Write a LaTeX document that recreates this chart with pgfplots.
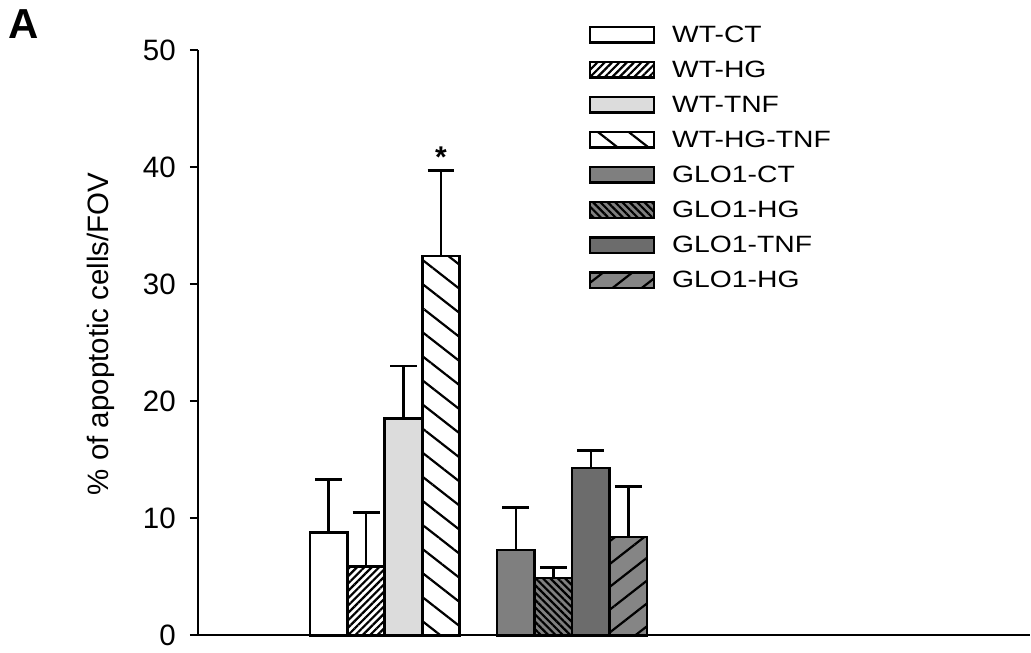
\documentclass[border=0pt]{standalone}
\usepackage{pgfplots}
\pgfplotsset{compat=1.18}
\usepackage{fontspec}
\setmainfont{Liberation Sans}
\newfontfamily\legfont{Liberation Sans}[FakeStretch=1.2]
\usetikzlibrary{patterns.meta}
\definecolor{ltgray}{HTML}{DCDCDC}
\definecolor{gCT}{HTML}{7F7F7F}
\definecolor{gHG}{HTML}{808080}
\definecolor{gTNF}{HTML}{6C6C6C}
\definecolor{gHG2}{HTML}{858585}
\pgfplotsset{
  mybar/.style={ybar, bar width=1, bar shift=0pt, draw=black, line width=1.3pt,
    error bars/y dir=plus, error bars/y explicit,
    error bars/error bar style={line width=1.3pt, black},
    error bars/error mark options={rotate=90, line width=1.3pt, black, mark size=6.75pt}},
  mylegend/.style={legend image code/.code={\draw[##1, line width=1.2pt] (0pt,0pt) rectangle (32pt,7.75pt);}},
}
\begin{document}
\begin{tikzpicture}
\path (-99pt,-8pt) rectangle (416.5pt,318pt);
\begin{axis}[
  at={(0pt,0pt)}, anchor=south west,
  scale only axis, width=416.5pt, height=293pt,
  xmin=-3.49, xmax=18.72, ymin=0, ymax=50,
  axis lines*=left,
  axis line style={line width=1pt},
  xtick=\empty,
  ytick={0,10,20,30,40,50},
  tick align=outside, major tick length=4pt,
  y tick style={line width=1pt, black},
  yticklabel style={font=\fontsize{14.75}{17}\selectfont, xshift=-3.5pt},
  /pgf/number format/assume math mode=true,
  ylabel={\% of apoptotic cells/FOV},
  ylabel style={font=\fontsize{14.75}{17}\selectfont, at={(axis description cs:-0.107,0.515)}, anchor=base},
  legend style={at={(axis description cs:0.4694,1.042)}, anchor=north west, draw=none, fill=none,
    inner sep=0pt, column sep=8.5pt, row sep=8.6pt,
    font=\legfont\fontsize{11.8}{13}\selectfont,
    nodes={inner sep=0pt, text height=8.2pt, text depth=0pt, anchor=base west}},
  legend cell align=left,
  clip=false,
]
\addplot[mybar, fill=white, mylegend] coordinates {(0,8.8) +- (0,4.5)};
\addlegendentry{WT-CT}
\addplot[mybar, fill=white, postaction={pattern={Lines[angle=45,distance=2.6pt,line width=1.1pt]}, pattern color=black}, mylegend] coordinates {(1,5.9) +- (0,4.6)};
\addlegendentry{WT-HG}
\addplot[mybar, fill=ltgray, mylegend] coordinates {(2,18.5) +- (0,4.5)};
\addlegendentry{WT-TNF}
\addplot[mybar, fill=white, postaction={pattern={Lines[angle=-38,distance=9.5pt,line width=1.1pt]}, pattern color=black}, mylegend] coordinates {(3,32.4) +- (0,7.3)};
\addlegendentry{WT-HG-TNF}
\addplot[mybar, fill=gCT, mylegend] coordinates {(5,7.3) +- (0,3.6)};
\addlegendentry{GLO1-CT}
\addplot[mybar, fill=gHG, postaction={pattern={Lines[angle=-45,distance=2.6pt,line width=1.1pt]}, pattern color=black}, mylegend] coordinates {(6,4.9) +- (0,0.9)};
\addlegendentry{GLO1-HG}
\addplot[mybar, fill=gTNF, mylegend] coordinates {(7,14.3) +- (0,1.5)};
\addlegendentry{GLO1-TNF}
\addplot[mybar, fill=gHG2, postaction={pattern={Lines[angle=38,distance=9pt,line width=1.1pt]}, pattern color=black}, mylegend] coordinates {(8,8.4) +- (0,4.3)};
\addlegendentry{GLO1-HG}
\node[font=\fontsize{15}{15}\selectfont\bfseries, yshift=-3.3pt] at (axis cs:3,41.4) {*};
\end{axis}
\node[font=\fontsize{21}{21}\selectfont\bfseries, anchor=center] at (-87pt,306pt) {A};
\end{tikzpicture}
\end{document}
